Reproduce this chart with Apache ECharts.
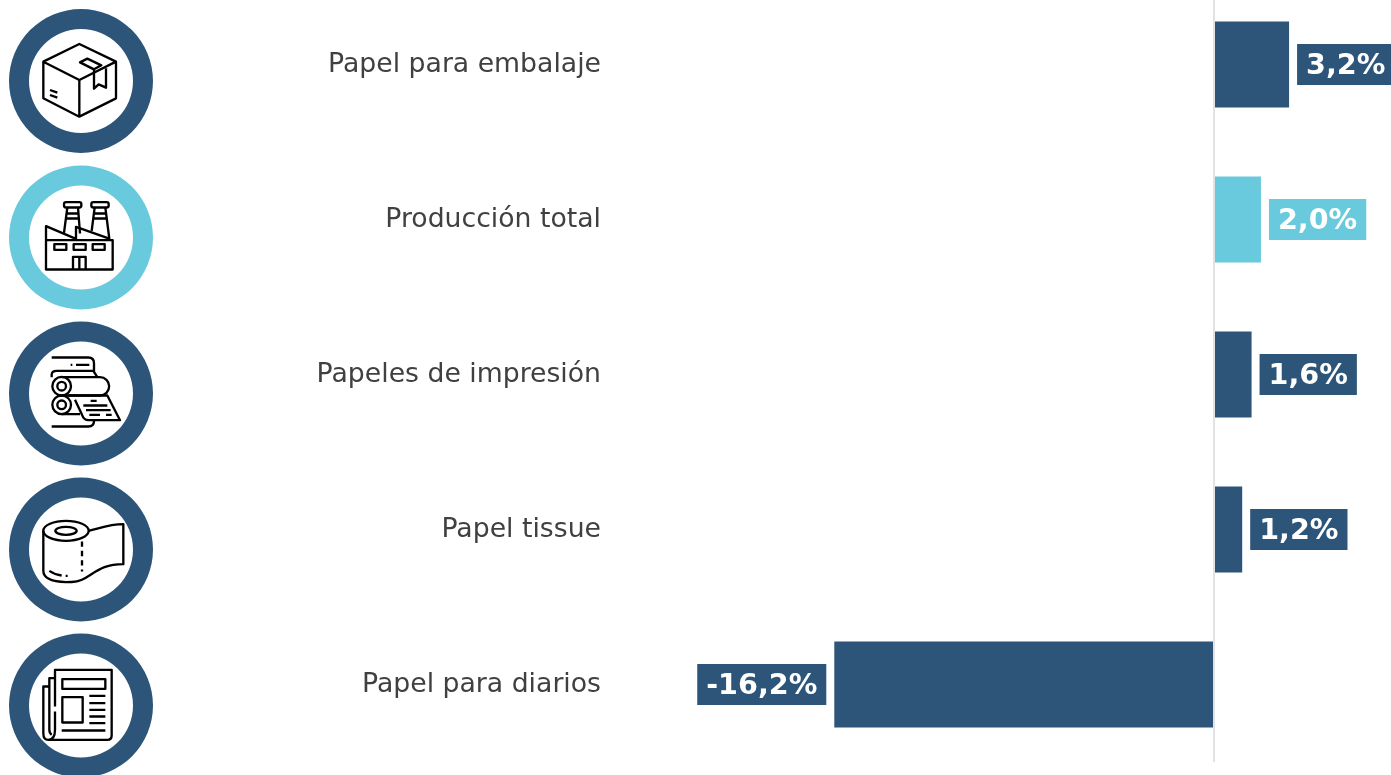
<!DOCTYPE html>
<html><head><meta charset="utf-8">
<style>html,body{margin:0;padding:0;background:#fff}#c{width:1391px;height:775px}</style>
<script src="https://cdn.jsdelivr.net/npm/echarts@6/dist/echarts.min.js"></script>
</head><body><div id="c"></div>
<script>
const categories = ['Papel para embalaje','Producción total','Papeles de impresión','Papel tissue','Papel para diarios'];
const values = [3.2,2.0,1.6,1.2,-16.2];
const colors = ['#2d5579','#69c9dd','#2d5579','#2d5579','#2d5579'];
const ringCentersY = [81,237.5,393.5,549.5,705.5];

const iconBodies = [
 `<g>
  <path d="M238 132L348 185V295L238 350L130 295V185ZM130 185L238 240L348 185M238 240V350"/>
  <path d="M240 187L262 176L304 196L282 208ZM282 208V266L296 253L318 263V205"/>
  <path d="M150 270L172 278M150 285L172 293"/></g>`,
 `<g transform="translate(0,-469)">
  <path d="M138 720H338V808H138ZM138 720V678L228 716V680L330 716"/>
  <rect x="192" y="606" width="52" height="16" rx="6"/><rect x="274" y="606" width="52" height="16" rx="6"/>
  <path d="M202 622L192 698M234 622L240 700M284 622L275 692M316 622L328 716M198 640H238M198 655H238M280 640H320M280 655H320"/>
  <rect x="163" y="732" width="36" height="17"/><rect x="221" y="732" width="36" height="17"/><rect x="278" y="732" width="36" height="17"/>
  <path d="M219 808V770H257V808M238 770V808"/></g>`,
 `<g transform="translate(0,7)">
  <path d="M155 128H265Q282 128 282 145V170M212 150H217M228 150H268"/>
  <path d="M155 187V180Q155 168 170 168H280L292 187"/>
  <path d="M185 187H300A27.5 27.5 0 0 1 300 242H185"/>
  <circle cx="185" cy="214" r="28"/><circle cx="185" cy="214" r="13"/>
  <circle cx="185" cy="270" r="28"/><circle cx="185" cy="270" r="13"/>
  <path d="M205 242H322L360 316H265Q252 316 246 300L225 255M185 298H240"/>
  <path d="M272 258H290M250 272H322M258 286H332M268 300H300M318 300H335"/>
  <path d="M155 335H265Q282 335 282 318"/></g>`,
 `<g transform="translate(0,-461)">
  <ellipse cx="198" cy="648" rx="68" ry="30"/><ellipse cx="198" cy="648" rx="32" ry="12"/>
  <path d="M130 648V768Q130 800 198 802Q235 802 255 790C290 770 310 748 370 748V628C330 628 300 640 266 648"/>
  <path d="M246 680V770" stroke-dasharray="16 12"/>
  <path d="M148 768Q165 780 185 782M197 783H203"/></g>`,
 `<g transform="translate(0,-929)">
  <path d="M165 1175V1065H335V1262Q335 1275 322 1275H145Q130 1275 130 1255V1115H148M148 1115V1090H165M148 1115V1245Q148 1255 155 1260M165 1190V1245Q165 1275 145 1275"/>
  <rect x="187" y="1093" width="129" height="29"/><rect x="187" y="1147" width="61" height="76"/>
  <path d="M268 1143H316M268 1165H316M268 1185H316M268 1205H316M268 1225H316M185 1247H316"/></g>`
];
const iconUri = b => 'data:image/svg+xml;charset=utf-8,' + encodeURIComponent(
 `<svg xmlns="http://www.w3.org/2000/svg" width="972" height="972" viewBox="0 0 486 486"><g fill="none" stroke="#000" stroke-width="7" stroke-linejoin="round">${b}</g></svg>`);

const graphics = [];
ringCentersY.forEach((cy,i)=>{
  graphics.push({type:'ring',shape:{cx:81,cy:cy,r:72,r0:52},style:{fill:colors[i]},silent:true});
  graphics.push({type:'image',x:0,y:cy-81,silent:true,style:{image:iconUri(iconBodies[i]),x:0,y:0,width:162,height:162}});
});

const chart = echarts.init(document.getElementById('c'));
chart.setOption({
  animation:false,
  backgroundColor:'#fff',
  grid:{left:628,top:-13,width:773.6,height:775,containLabel:false,outerBoundsMode:'none'},
  xAxis:{type:'value',min:-25,max:8,show:false,splitLine:{show:false}},
  yAxis:{type:'category',inverse:true,data:categories,
    axisLine:{show:false,onZero:false},axisTick:{show:false},
    axisLabel:{margin:27,fontFamily:'"DejaVu Sans"',fontSize:26.7,color:'#404040',verticalAlign:'top',padding:[-12.5,0,0,0]}},
  graphic:{elements:graphics},
  series:[{type:'bar',barWidth:86,
    data:values.map((v,i)=>({value:v,itemStyle:{color:colors[i]},
      label:{position:v<0?'left':'right',backgroundColor:colors[i]}})),
    label:{show:true,distance:8,color:'#fff',fontFamily:'"DejaVu Sans"',fontWeight:'bold',fontSize:28.6,
      verticalAlign:'top',offset:[0,-20.5],
      padding:[8,9,4,9],formatter:p=>p.value.toFixed(1).replace('.',',')+'%'},
    markLine:{silent:true,symbol:'none',label:{show:false},animation:false,
      lineStyle:{color:'#e2e2e2',width:2,type:'solid'},data:[{xAxis:0}]}
  }]
});
</script></body></html>
